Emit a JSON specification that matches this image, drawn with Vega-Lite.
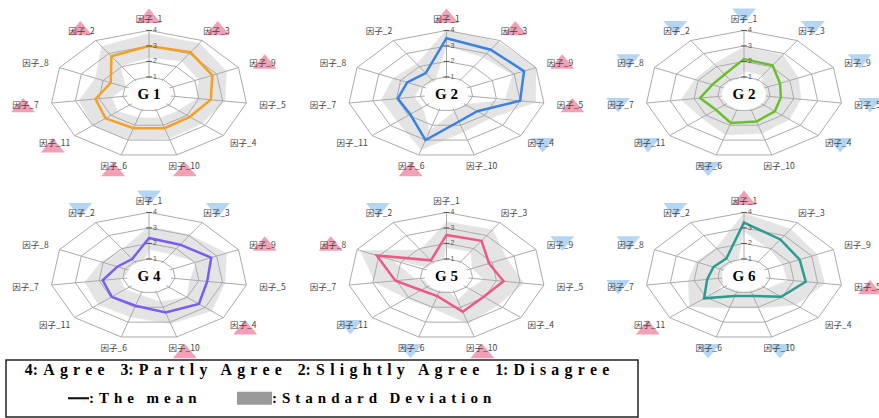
{
  "$schema": "https://vega.github.io/schema/vega-lite/v6.json",
  "padding": {"left": 5, "top": 8, "right": 0, "bottom": 0},
  "background": "white",
  "spacing": 0,
  "config": {"view": {"stroke": null}},
  "datasets": {
    "radar": [
      {"panel": "p1", "label": "G 1", "factor": "因子_1", "mean": 3.0, "sd": 0.8, "sig": "high"},
      {"panel": "p1", "label": "G 1", "factor": "因子_3", "mean": 3.1, "sd": 0.7, "sig": "high"},
      {"panel": "p1", "label": "G 1", "factor": "因子_9", "mean": 2.8, "sd": 0.65, "sig": "high"},
      {"panel": "p1", "label": "G 1", "factor": "因子_5", "mean": 2.5, "sd": 0.6, "sig": "none"},
      {"panel": "p1", "label": "G 1", "factor": "因子_4", "mean": 2.15, "sd": 0.65, "sig": "none"},
      {"panel": "p1", "label": "G 1", "factor": "因子_10", "mean": 2.2, "sd": 0.7, "sig": "high"},
      {"panel": "p1", "label": "G 1", "factor": "因子_6", "mean": 2.2, "sd": 0.75, "sig": "high"},
      {"panel": "p1", "label": "G 1", "factor": "因子_11", "mean": 2.3, "sd": 0.7, "sig": "high"},
      {"panel": "p1", "label": "G 1", "factor": "因子_7", "mean": 2.15, "sd": 0.7, "sig": "high"},
      {"panel": "p1", "label": "G 1", "factor": "因子_8", "mean": 1.65, "sd": 0.7, "sig": "none"},
      {"panel": "p1", "label": "G 1", "factor": "因子_2", "mean": 2.8, "sd": 0.75, "sig": "high"},

      {"panel": "p2", "label": "G 2", "factor": "因子_1", "mean": 3.5, "sd": 0.55, "sig": "high"},
      {"panel": "p2", "label": "G 2", "factor": "因子_3", "mean": 3.3, "sd": 0.6, "sig": "high"},
      {"panel": "p2", "label": "G 2", "factor": "因子_9", "mean": 3.45, "sd": 0.55, "sig": "high"},
      {"panel": "p2", "label": "G 2", "factor": "因子_5", "mean": 3.0, "sd": 0.65, "sig": "high"},
      {"panel": "p2", "label": "G 2", "factor": "因子_4", "mean": 1.6, "sd": 0.7, "sig": "low"},
      {"panel": "p2", "label": "G 2", "factor": "因子_10", "mean": 1.75, "sd": 0.7, "sig": "none"},
      {"panel": "p2", "label": "G 2", "factor": "因子_6", "mean": 3.0, "sd": 0.65, "sig": "high"},
      {"panel": "p2", "label": "G 2", "factor": "因子_11", "mean": 1.9, "sd": 0.7, "sig": "none"},
      {"panel": "p2", "label": "G 2", "factor": "因子_7", "mean": 1.95, "sd": 0.7, "sig": "none"},
      {"panel": "p2", "label": "G 2", "factor": "因子_8", "mean": 1.7, "sd": 0.65, "sig": "none"},
      {"panel": "p2", "label": "G 2", "factor": "因子_2", "mean": 1.5, "sd": 0.7, "sig": "none"},

      {"panel": "p3", "label": "G 2", "factor": "因子_1", "mean": 2.15, "sd": 0.8, "sig": "low"},
      {"panel": "p3", "label": "G 2", "factor": "因子_3", "mean": 2.1, "sd": 0.8, "sig": "low"},
      {"panel": "p3", "label": "G 2", "factor": "因子_9", "mean": 1.55, "sd": 0.85, "sig": "low"},
      {"panel": "p3", "label": "G 2", "factor": "因子_5", "mean": 1.45, "sd": 0.85, "sig": "low"},
      {"panel": "p3", "label": "G 2", "factor": "因子_4", "mean": 1.6, "sd": 0.8, "sig": "low"},
      {"panel": "p3", "label": "G 2", "factor": "因子_10", "mean": 1.75, "sd": 0.8, "sig": "none"},
      {"panel": "p3", "label": "G 2", "factor": "因子_6", "mean": 1.85, "sd": 0.8, "sig": "low"},
      {"panel": "p3", "label": "G 2", "factor": "因子_11", "mean": 1.45, "sd": 0.8, "sig": "low"},
      {"panel": "p3", "label": "G 2", "factor": "因子_7", "mean": 1.75, "sd": 0.8, "sig": "low"},
      {"panel": "p3", "label": "G 2", "factor": "因子_8", "mean": 1.35, "sd": 0.8, "sig": "low"},
      {"panel": "p3", "label": "G 2", "factor": "因子_2", "mean": 1.4, "sd": 0.8, "sig": "low"},

      {"panel": "p4", "label": "G 4", "factor": "因子_1", "mean": 2.35, "sd": 0.75, "sig": "low"},
      {"panel": "p4", "label": "G 4", "factor": "因子_3", "mean": 2.3, "sd": 0.75, "sig": "low"},
      {"panel": "p4", "label": "G 4", "factor": "因子_9", "mean": 2.75, "sd": 0.7, "sig": "high"},
      {"panel": "p4", "label": "G 4", "factor": "因子_5", "mean": 2.35, "sd": 0.75, "sig": "none"},
      {"panel": "p4", "label": "G 4", "factor": "因子_4", "mean": 2.65, "sd": 0.7, "sig": "high"},
      {"panel": "p4", "label": "G 4", "factor": "因子_10", "mean": 2.35, "sd": 0.75, "sig": "high"},
      {"panel": "p4", "label": "G 4", "factor": "因子_6", "mean": 1.9, "sd": 0.75, "sig": "none"},
      {"panel": "p4", "label": "G 4", "factor": "因子_11", "mean": 1.95, "sd": 0.75, "sig": "none"},
      {"panel": "p4", "label": "G 4", "factor": "因子_7", "mean": 1.85, "sd": 0.75, "sig": "none"},
      {"panel": "p4", "label": "G 4", "factor": "因子_8", "mean": 1.35, "sd": 0.75, "sig": "none"},
      {"panel": "p4", "label": "G 4", "factor": "因子_2", "mean": 1.2, "sd": 0.75, "sig": "low"},

      {"panel": "p5", "label": "G 5", "factor": "因子_1", "mean": 2.55, "sd": 0.85, "sig": "none"},
      {"panel": "p5", "label": "G 5", "factor": "因子_3", "mean": 2.6, "sd": 0.85, "sig": "none"},
      {"panel": "p5", "label": "G 5", "factor": "因子_9", "mean": 1.85, "sd": 0.8, "sig": "low"},
      {"panel": "p5", "label": "G 5", "factor": "因子_5", "mean": 2.3, "sd": 0.85, "sig": "none"},
      {"panel": "p5", "label": "G 5", "factor": "因子_4", "mean": 1.95, "sd": 0.8, "sig": "none"},
      {"panel": "p5", "label": "G 5", "factor": "因子_10", "mean": 2.3, "sd": 0.8, "sig": "high"},
      {"panel": "p5", "label": "G 5", "factor": "因子_6", "mean": 1.25, "sd": 0.8, "sig": "low"},
      {"panel": "p5", "label": "G 5", "factor": "因子_11", "mean": 1.3, "sd": 0.8, "sig": "low"},
      {"panel": "p5", "label": "G 5", "factor": "因子_7", "mean": 2.05, "sd": 0.85, "sig": "none"},
      {"panel": "p5", "label": "G 5", "factor": "因子_8", "mean": 3.1, "sd": 0.75, "sig": "high"},
      {"panel": "p5", "label": "G 5", "factor": "因子_2", "mean": 1.1, "sd": 0.8, "sig": "low"},

      {"panel": "p6", "label": "G 6", "factor": "因子_1", "mean": 3.35, "sd": 0.6, "sig": "high"},
      {"panel": "p6", "label": "G 6", "factor": "因子_3", "mean": 2.7, "sd": 0.8, "sig": "none"},
      {"panel": "p6", "label": "G 6", "factor": "因子_9", "mean": 2.45, "sd": 0.8, "sig": "none"},
      {"panel": "p6", "label": "G 6", "factor": "因子_5", "mean": 2.5, "sd": 0.8, "sig": "high"},
      {"panel": "p6", "label": "G 6", "factor": "因子_4", "mean": 1.95, "sd": 0.8, "sig": "none"},
      {"panel": "p6", "label": "G 6", "factor": "因子_10", "mean": 1.25, "sd": 0.8, "sig": "low"},
      {"panel": "p6", "label": "G 6", "factor": "因子_6", "mean": 1.25, "sd": 0.8, "sig": "low"},
      {"panel": "p6", "label": "G 6", "factor": "因子_11", "mean": 2.1, "sd": 0.8, "sig": "high"},
      {"panel": "p6", "label": "G 6", "factor": "因子_7", "mean": 1.45, "sd": 0.8, "sig": "low"},
      {"panel": "p6", "label": "G 6", "factor": "因子_8", "mean": 1.3, "sd": 0.8, "sig": "low"},
      {"panel": "p6", "label": "G 6", "factor": "因子_2", "mean": 1.25, "sd": 0.8, "sig": "low"}
    ]
  },
  "vconcat": [
    {
      "data": {"name": "radar"},
      "transform": [
        {"window": [{"op": "row_number", "as": "idx"}], "groupby": ["panel"]},
        {"calculate": "(datum.idx - 1) * 2 * PI / 11", "as": "ang"},
        {"calculate": "sin(datum.ang)", "as": "sn"},
        {"calculate": "cos(datum.ang)", "as": "cs"},
        {"calculate": "0", "as": "z"},
        {"calculate": "datum.panel == 'p1' || datum.panel == 'p2' || datum.panel == 'p3' ? 'r1' : 'r2'", "as": "prow"},
        {"calculate": "datum.panel == 'p1' || datum.panel == 'p4' ? 'c1' : (datum.panel == 'p2' || datum.panel == 'p5' ? 'c2' : 'c3')", "as": "pcol"}
      ],
      "facet": {
        "row": {"field": "prow", "type": "nominal", "header": {"labels": false, "title": null}},
        "column": {"field": "pcol", "type": "nominal", "header": {"labels": false, "title": null}}
      },
      "spacing": {"row": 16, "column": 11.5},
      "bounds": "flush",
      "spec": {
        "width": 286,
        "height": 166,
        "layer": [
          {
            "transform": [
              {"calculate": "datum.mean + datum.sd + 0.1", "as": "rr"},
              {"calculate": "datum.rr * datum.sn", "as": "px"},
              {"calculate": "datum.rr * datum.cs", "as": "py"}
            ],
            "mark": {"type": "line", "interpolate": "linear-closed", "fill": "#e4e4e4", "stroke": "#e4e4e4", "strokeWidth": 0.5},
            "encoding": {
              "x": {"field": "px", "type": "quantitative", "scale": {"domain": [-5.958, 5.958], "nice": false, "zero": false}, "axis": null},
              "y": {"field": "py", "type": "quantitative", "scale": {"domain": [-5.355, 5.355], "nice": false, "zero": false}, "axis": null},
              "order": {"field": "idx", "type": "quantitative"}
            }
          },
          {
            "transform": [
              {"calculate": "max(datum.mean - datum.sd, 0) + 0.1", "as": "rr"},
              {"calculate": "datum.rr * datum.sn", "as": "px"},
              {"calculate": "datum.rr * datum.cs", "as": "py"}
            ],
            "mark": {"type": "line", "interpolate": "linear-closed", "fill": "white", "stroke": "white", "strokeWidth": 0.5},
            "encoding": {
              "x": {"field": "px", "type": "quantitative"},
              "y": {"field": "py", "type": "quantitative"},
              "order": {"field": "idx", "type": "quantitative"}
            }
          },
          {
            "transform": [
              {"calculate": "[1, 2, 3, 4]", "as": "lv"},
              {"flatten": ["lv"]},
              {"calculate": "(datum.lv + 0.1) * datum.sn", "as": "px"},
              {"calculate": "(datum.lv + 0.1) * datum.cs", "as": "py"}
            ],
            "mark": {"type": "line", "interpolate": "linear-closed", "stroke": "#ababab", "strokeWidth": 1},
            "encoding": {
              "x": {"field": "px", "type": "quantitative"},
              "y": {"field": "py", "type": "quantitative"},
              "detail": {"field": "lv", "type": "nominal"},
              "order": {"field": "idx", "type": "quantitative"}
            }
          },
          {
            "transform": [
              {"calculate": "4.1 * datum.sn", "as": "ex"},
              {"calculate": "4.1 * datum.cs", "as": "ey"}
            ],
            "mark": {"type": "rule", "stroke": "#ababab", "strokeWidth": 1},
            "encoding": {
              "x": {"field": "z", "type": "quantitative"},
              "y": {"field": "z", "type": "quantitative"},
              "x2": {"field": "ex"},
              "y2": {"field": "ey"}
            }
          },
          {
            "transform": [
              {"calculate": "(datum.mean + 0.1) * datum.sn", "as": "px"},
              {"calculate": "(datum.mean + 0.1) * datum.cs", "as": "py"}
            ],
            "mark": {"type": "line", "interpolate": "linear-closed", "strokeWidth": 2.5},
            "encoding": {
              "x": {"field": "px", "type": "quantitative"},
              "y": {"field": "py", "type": "quantitative"},
              "order": {"field": "idx", "type": "quantitative"},
              "stroke": {"field": "panel", "type": "nominal", "scale": {"domain": ["p1", "p2", "p3", "p4", "p5", "p6"], "range": ["#F4A024", "#3B82E0", "#6BBF2E", "#7B5CF0", "#EC5A84", "#2A9D90"]}, "legend": null}
            }
          },
          {
            "transform": [{"filter": "datum.idx == 1"}],
            "mark": {"type": "point", "filled": true, "fill": "white", "opacity": 1, "strokeWidth": 0, "size": 1936, "shape": "M-1,0A1,0.7,0,1,1,1,0A1,0.7,0,1,1,-1,0Z"},
            "encoding": {
              "x": {"field": "z", "type": "quantitative"},
              "y": {"field": "z", "type": "quantitative"}
            }
          },
          {
            "transform": [{"filter": "datum.idx == 1"}],
            "mark": {"type": "text", "font": "Liberation Serif", "fontWeight": "bold", "fontSize": 15, "color": "black", "baseline": "middle", "align": "center"},
            "encoding": {
              "x": {"field": "z", "type": "quantitative"},
              "y": {"field": "z", "type": "quantitative"},
              "text": {"field": "label", "type": "nominal"}
            }
          },
          {
            "transform": [
              {"filter": "datum.idx == 1"},
              {"calculate": "[1, 2, 3, 4]", "as": "lv"},
              {"flatten": ["lv"]},
              {"calculate": "datum.lv + 0.1", "as": "py"},
              {"calculate": "-0.12", "as": "t1"},
              {"calculate": "0.12", "as": "t2"}
            ],
            "mark": {"type": "rule", "stroke": "#555555", "strokeWidth": 1},
            "encoding": {
              "x": {"field": "t1", "type": "quantitative"},
              "x2": {"field": "t2"},
              "y": {"field": "py", "type": "quantitative"}
            }
          },
          {
            "transform": [
              {"filter": "datum.idx == 1"},
              {"calculate": "[1, 2, 3, 4]", "as": "lv"},
              {"flatten": ["lv"]},
              {"calculate": "datum.lv + 0.1", "as": "py"}
            ],
            "mark": {"type": "text", "fontSize": 7, "color": "#555555", "align": "left", "baseline": "middle", "dx": 4, "font": "Liberation Sans"},
            "encoding": {
              "x": {"field": "z", "type": "quantitative"},
              "y": {"field": "py", "type": "quantitative"},
              "text": {"field": "lv", "type": "quantitative"}
            }
          },
          {
            "transform": [
              {"filter": "datum.sig == 'high'"},
              {"calculate": "5.3 * datum.sn", "as": "px"},
              {"calculate": "5.05 * datum.cs", "as": "py"}
            ],
            "mark": {"type": "point", "filled": true, "opacity": 0.5, "size": 576, "strokeWidth": 0, "shape": "M0,-0.6L1,0.6L-1,0.6Z", "color": "#e8406e"},
            "encoding": {
              "x": {"field": "px", "type": "quantitative"},
              "y": {"field": "py", "type": "quantitative"}
            }
          },
          {
            "transform": [
              {"filter": "datum.sig == 'low'"},
              {"calculate": "5.3 * datum.sn", "as": "px"},
              {"calculate": "5.05 * datum.cs", "as": "py"}
            ],
            "mark": {"type": "point", "filled": true, "opacity": 0.5, "size": 576, "strokeWidth": 0, "shape": "M0,0.6L1,-0.6L-1,-0.6Z", "color": "#6aaee8"},
            "encoding": {
              "x": {"field": "px", "type": "quantitative"},
              "y": {"field": "py", "type": "quantitative"}
            }
          },
          {
            "transform": [
              {"calculate": "5.2 * datum.sn", "as": "px"},
              {"calculate": "4.85 * datum.cs", "as": "py"}
            ],
            "mark": {"type": "text", "font": "Noto Sans CJK SC", "fontSize": 8.5, "color": "#444444", "align": "center", "baseline": "middle"},
            "encoding": {
              "x": {"field": "px", "type": "quantitative"},
              "y": {"field": "py", "type": "quantitative"},
              "text": {"field": "factor", "type": "nominal"}
            }
          }
        ]
      }
    },
    {
      "width": 632,
      "height": 57,
      "view": {"stroke": "#222222", "strokeWidth": 1.5, "fill": "white"},
      "layer": [
        {
          "data": {"values": [{"line": 1, "t": "4:\u2004A\u2004g\u2004r\u2004e\u2004e\u00a0\u00a0\u00a0\u00a03:\u2004P\u2004a\u2004r\u2004t\u2004l\u2004y\u00a0\u00a0\u2004A\u2004g\u2004r\u2004e\u2004e\u00a0\u00a0\u00a0\u00a02:\u2004S\u2004l\u2004i\u2004g\u2004h\u2004t\u2004l\u2004y\u00a0\u00a0\u2004A\u2004g\u2004r\u2004e\u2004e\u00a0\u00a0\u00a0\u00a01:\u2004D\u2004i\u2004s\u2004a\u2004g\u2004r\u2004e\u2004e"}]},
          "mark": {"type": "text", "font": "Liberation Serif", "fontWeight": "bold", "fontSize": 15.8, "color": "black", "baseline": "middle", "align": "center", "dx": -5},
          "encoding": {
            "y": {"field": "line", "type": "ordinal", "scale": {"type": "point", "domain": [1, 2], "padding": 0.518, "align": 0.345}, "axis": null},
            "text": {"field": "t", "type": "nominal"}
          }
        },
        {
          "data": {"values": [{"k": ":\u2004T\u2004h\u2004e\u00a0\u00a0\u2004m\u2004e\u2004a\u2004n"}, {"k": ":\u2004S\u2004t\u2004a\u2004n\u2004d\u2004a\u2004r\u2004d\u00a0\u00a0\u2004D\u2004e\u2004v\u2004i\u2004a\u2004t\u2004i\u2004o\u2004n"}]},
          "transform": [{"filter": "false"}],
          "mark": {"type": "point", "filled": true},
          "encoding": {
            "color": {"field": "k", "type": "nominal", "scale": {"domain": [":\u2004T\u2004h\u2004e\u00a0\u00a0\u2004m\u2004e\u2004a\u2004n", ":\u2004S\u2004t\u2004a\u2004n\u2004d\u2004a\u2004r\u2004d\u00a0\u00a0\u2004D\u2004e\u2004v\u2004i\u2004a\u2004t\u2004i\u2004o\u2004n"], "range": ["#111111", "#9a9a9a"]},
              "legend": {"orient": "none", "legendX": 48, "legendY": 369.5, "direction": "horizontal", "title": null, "symbolSize": 1225, "symbolStrokeWidth": 0, "symbolOpacity": 1, "labelFont": "Liberation Serif", "labelFontWeight": "bold", "labelFontSize": 15, "labelColor": "black", "labelOffset": 0, "columnPadding": 40, "padding": 0, "labelLimit": 400}},
            "shape": {"field": "k", "type": "nominal", "scale": {"domain": [":\u2004T\u2004h\u2004e\u00a0\u00a0\u2004m\u2004e\u2004a\u2004n", ":\u2004S\u2004t\u2004a\u2004n\u2004d\u2004a\u2004r\u2004d\u00a0\u00a0\u2004D\u2004e\u2004v\u2004i\u2004a\u2004t\u2004i\u2004o\u2004n"], "range": ["M-0.2,-0.06H1V0.06H-0.2Z", "M-1,-0.37H1V0.37H-1Z"]},
              "legend": {"orient": "none", "legendX": 48, "legendY": 369.5, "direction": "horizontal", "title": null, "symbolSize": 1225, "symbolStrokeWidth": 0, "symbolOpacity": 1, "labelFont": "Liberation Serif", "labelFontWeight": "bold", "labelFontSize": 15, "labelColor": "black", "labelOffset": 0, "columnPadding": 40, "padding": 0, "labelLimit": 400}}
          }
        }
      ]
    }
  ]
}
